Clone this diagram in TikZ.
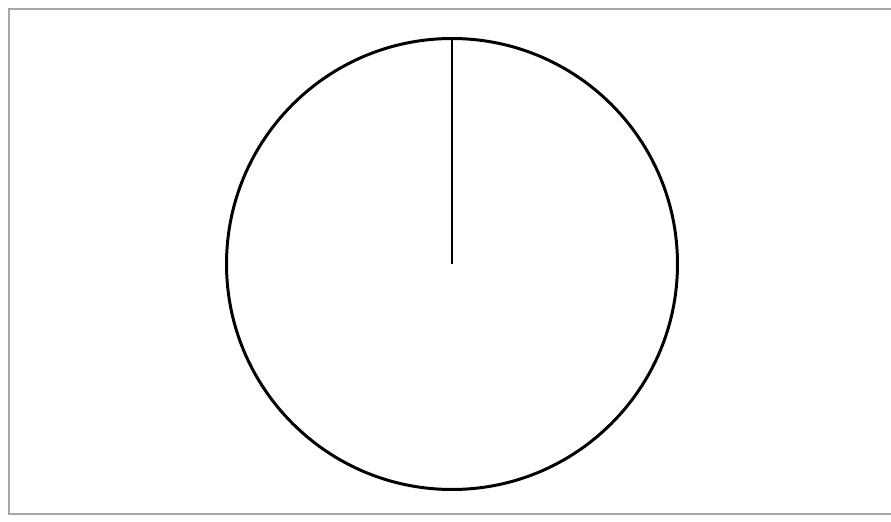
\documentclass[tikz,border=0pt]{standalone}
\usepackage{tikz}

\begin{document}
\begin{tikzpicture}
	% Bounding box of the page
	\useasboundingbox (0,0) rectangle (8.91,5.22);
	% Define coordinates
	\coordinate (O) at (4.52,2.58);
	\coordinate (T) at (4.52,4.84);
	
	% Frame
	\draw[gray!70, line width=0.6pt] (0.09,0.08) rectangle (9.1,5.13);
	
	% Circle and radius
	\draw[line width=0.85pt] (O) circle (2.255);
	\draw[line width=0.85pt] (O) -- (T);
\end{tikzpicture}
\end{document}
